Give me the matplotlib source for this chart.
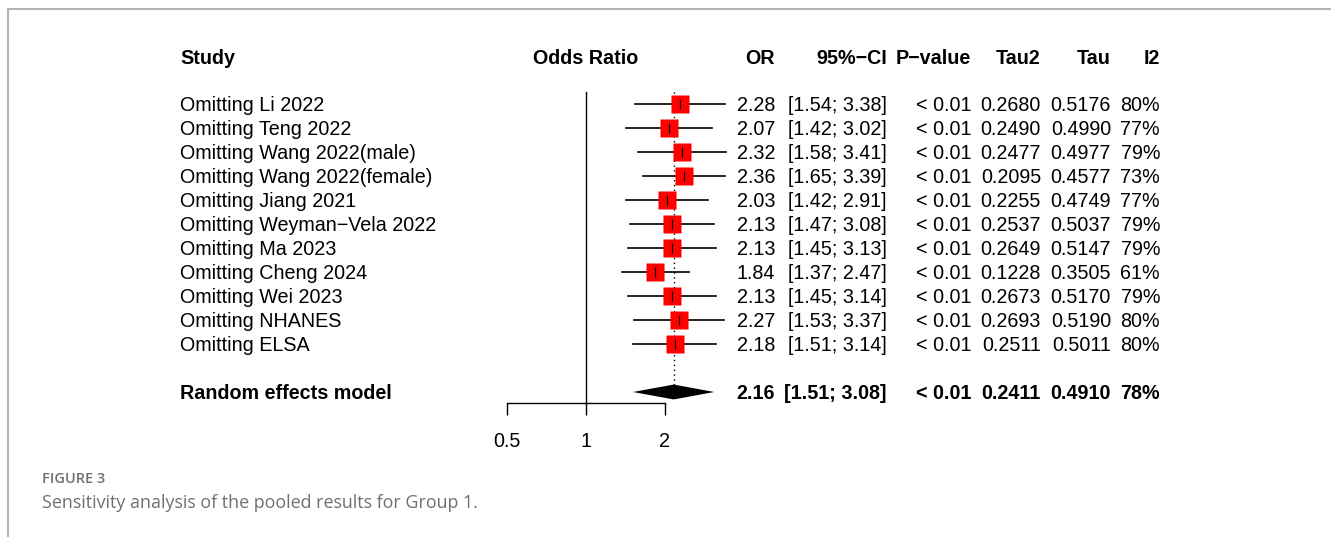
import numpy as np
import matplotlib
matplotlib.use("Agg")
import matplotlib.pyplot as plt
from matplotlib.transforms import blended_transform_factory
from matplotlib.lines import Line2D

# ---------------------------------------------------------------------------
# data (leave-one-out sensitivity analysis)
# ---------------------------------------------------------------------------
studies = ["Omitting Li 2022", "Omitting Teng 2022", "Omitting Wang 2022(male)",
           "Omitting Wang 2022(female)", "Omitting Jiang 2021",
           "Omitting Weyman\u2212Vela 2022", "Omitting Ma 2023",
           "Omitting Cheng 2024", "Omitting Wei 2023", "Omitting NHANES",
           "Omitting ELSA"]
or_est = [2.28, 2.07, 2.32, 2.36, 2.03, 2.13, 2.13, 1.84, 2.13, 2.27, 2.18]
ci_low = [1.54, 1.42, 1.58, 1.65, 1.42, 1.47, 1.45, 1.37, 1.45, 1.53, 1.51]
ci_high = [3.38, 3.02, 3.41, 3.39, 2.91, 3.08, 3.13, 2.47, 3.14, 3.37, 3.14]
p_text = ["< 0.01"] * 11
tau2 = ["0.2680", "0.2490", "0.2477", "0.2095", "0.2255", "0.2537",
        "0.2649", "0.1228", "0.2673", "0.2693", "0.2511"]
tau = ["0.5176", "0.4990", "0.4977", "0.4577", "0.4749", "0.5037",
       "0.5147", "0.3505", "0.5170", "0.5190", "0.5011"]
i2 = ["80%", "77%", "79%", "73%", "77%", "79%", "79%", "61%", "79%", "80%", "80%"]

pooled_label = "Random effects model"
pooled_or, pooled_low, pooled_high = 2.16, 1.51, 3.08
pooled_p, pooled_tau2, pooled_tau, pooled_i2 = "< 0.01", "0.2411", "0.4910", "78%"

x_ticks = [0.5, 1, 2]

# ---------------------------------------------------------------------------
# layout
# ---------------------------------------------------------------------------
W, H = 1331, 537
fig = plt.figure(figsize=(W / 100, H / 100), dpi=100)
plt.rcParams['font.family'] = ['Liberation Sans', 'DejaVu Sans']
FS = 14.2

# forest panel: log2 scale, 79 px per doubling, 1 at x=586
ax_left, ax_right = 500, 740
x_lo = 2 ** ((ax_left - 586) / 79)
x_hi = 2 ** ((ax_right - 586) / 79)
row0_px, row_px = 104, 24
top_px, bottom_px = 80, 403
ax = fig.add_axes([ax_left / W, 1 - bottom_px / H,
                   (ax_right - ax_left) / W, (bottom_px - top_px) / H])
ax.set_xscale('log', base=2)
ax.set_xlim(x_lo, x_hi)
ax.set_ylim((bottom_px - row0_px) / row_px, (top_px - row0_px) / row_px)
ax.patch.set_visible(False)
for s in ['top', 'right', 'left']:
    ax.spines[s].set_visible(False)
ax.spines['bottom'].set_bounds(x_ticks[0], x_ticks[-1])
ax.spines['bottom'].set_linewidth(1.0)
ax.set_yticks([])
ax.set_xticks(x_ticks)
ax.set_xticklabels(["0.5", "1", "2"])
ax.xaxis.set_minor_locator(matplotlib.ticker.NullLocator())
ax.tick_params(axis='x', length=8.6, width=1.0, pad=12, labelsize=FS)

rows = np.arange(len(studies))
pooled_row = len(studies) + 1

# reference line at 1 and dotted pooled line
ax.plot([1, 1], [-0.5, ax.get_ylim()[0]], color='black', lw=1.0, clip_on=False)
ax.plot([pooled_or, pooled_or], [-0.5, pooled_row - 0.31], color='black',
        lw=1.0, ls=(0, (1, 2.5)), clip_on=False)

# study rows
for r, e, lo, hi in zip(rows, or_est, ci_low, ci_high):
    ax.plot([lo, hi], [r, r], color='black', lw=1.2, clip_on=False)
    ax.plot(e, r, marker='s', ms=13.5, color='#ff0000', mec='none', clip_on=False)
    ax.plot(e, r, marker='|', ms=6.5, color='black', mew=0.9, clip_on=False)

# pooled diamond
ax.fill([pooled_low, pooled_or, pooled_high, pooled_or],
        [pooled_row, pooled_row - 0.31, pooled_row, pooled_row + 0.31],
        color='black', lw=0, clip_on=False)

# ---------------------------------------------------------------------------
# text columns (x in figure pixels, y in rows)
# ---------------------------------------------------------------------------
tr = blended_transform_factory(fig.transFigure, ax.transData)
head_row = (57 - row0_px) / row_px
base_off = 7.0 / row_px  # baseline sits half a cap height below the row centre


def col(xpx, r, s, ha='right', weight='normal'):
    ax.text(xpx / W, r + base_off, s, transform=tr, ha=ha, va='baseline',
            fontsize=FS, fontweight=weight, clip_on=False)


headers = [(180, "Study", 'left'), (586, "Odds Ratio", 'center'),
           (775, "OR", 'right'), (887, "95%\u2212CI", 'right'),
           (971, "P\u2212value", 'right'), (1041, "Tau2", 'right'),
           (1111, "Tau", 'right'), (1160, "I2", 'right')]
for xpx, s, ha in headers:
    col(xpx, head_row, s, ha=ha, weight='bold')

for r in rows:
    col(180, r, studies[r], ha='left')
    col(775, r, f"{or_est[r]:.2f}")
    col(887, r, f"[{ci_low[r]:.2f}; {ci_high[r]:.2f}]")
    col(971, r, p_text[r])
    col(1041, r, tau2[r])
    col(1111, r, tau[r])
    col(1160, r, i2[r])

col(180, pooled_row, pooled_label, ha='left', weight='bold')
col(775, pooled_row, f"{pooled_or:.2f}", weight='bold')
col(887, pooled_row, f"[{pooled_low:.2f}; {pooled_high:.2f}]", weight='bold')
col(971, pooled_row, pooled_p, weight='bold')
col(1041, pooled_row, pooled_tau2, weight='bold')
col(1111, pooled_row, pooled_tau, weight='bold')
col(1160, pooled_row, pooled_i2, weight='bold')

# ---------------------------------------------------------------------------
# page frame and caption
# ---------------------------------------------------------------------------
fig.add_artist(Line2D([8 / W, 1], [1 - 9 / H, 1 - 9 / H], transform=fig.transFigure,
                      color='#b4b4b4', lw=1.5))
fig.add_artist(Line2D([8 / W, 8 / W], [1 - 9 / H, 0], transform=fig.transFigure,
                      color='#b4b4b4', lw=1.5))
fig.text(42 / W, 1 - 479 / H, "FIGURE 3", fontsize=10.5, color='#707070',
         family='Open Sans', fontweight='semibold', va='center', ha='left')
fig.text(42 / W, 1 - 503 / H, "Sensitivity analysis of the pooled results for Group 1.",
         fontsize=12.9, color='#707070', family='Open Sans', va='center', ha='left')

fig.savefig("out.png", dpi=100)
